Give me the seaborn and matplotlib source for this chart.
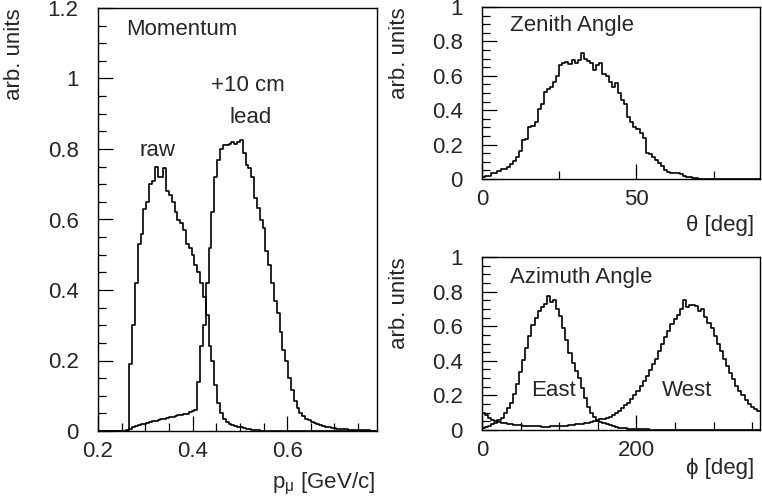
import numpy as np
import pandas as pd
import matplotlib
matplotlib.use("Agg")
import matplotlib.pyplot as plt
import seaborn as sns
from matplotlib.ticker import MultipleLocator, FormatStrFormatter

# ---- data ----
# momentum histograms, bins of 0.006 GeV/c starting at 0.2
p_lo, p_w = 0.2, 0.006
raw = [0.0]*10 + [
    0.0, 0.19, 0.30, 0.42, 0.53, 0.56, 0.63, 0.65, 0.70, 0.71,
    0.75, 0.72, 0.72, 0.745, 0.68, 0.67, 0.65, 0.62, 0.60, 0.59,
    0.57, 0.53, 0.52, 0.50, 0.47, 0.45, 0.42, 0.38, 0.33, 0.24,
    0.20, 0.13, 0.08, 0.05, 0.035, 0.025, 0.02, 0.018, 0.015, 0.012,
    0.01, 0.008, 0.006, 0.005, 0.004, 0.003, 0.002, 0.001] + [0.0]*40
lead = [0.0]*10 + [
    0.002, 0.005, 0.01, 0.014, 0.017, 0.019, 0.021, 0.022, 0.025, 0.027,
    0.028, 0.031, 0.033, 0.034, 0.037, 0.039, 0.040, 0.043, 0.045, 0.046,
    0.048, 0.049, 0.053, 0.056, 0.060, 0.14, 0.24, 0.30, 0.42, 0.52,
    0.62, 0.72, 0.77, 0.80, 0.81, 0.81, 0.815, 0.82, 0.815, 0.82,
    0.826, 0.79, 0.755, 0.745, 0.72, 0.66, 0.633, 0.60, 0.576, 0.51,
    0.47, 0.42, 0.37, 0.334, 0.28, 0.23, 0.20, 0.15, 0.115, 0.085,
    0.066, 0.052, 0.042, 0.034, 0.030, 0.026, 0.023, 0.019, 0.017, 0.013,
    0.012, 0.011, 0.009, 0.008, 0.007, 0.006, 0.005, 0.005, 0.004, 0.003,
    0.003, 0.003, 0.002, 0.002, 0.002, 0.002, 0.001, 0.001]

# zenith angle, 1 deg bins
zenith = [
    0.01, 0.02, 0.02, 0.037, 0.037, 0.046, 0.056, 0.056, 0.072, 0.087,
    0.107, 0.13, 0.16, 0.227, 0.233, 0.30, 0.308, 0.33, 0.407, 0.436,
    0.508, 0.521, 0.537, 0.566, 0.60, 0.663, 0.672, 0.682, 0.668, 0.69,
    0.672, 0.692, 0.73, 0.70, 0.688, 0.672, 0.634, 0.663, 0.676, 0.61,
    0.60, 0.566, 0.533, 0.556, 0.498, 0.46, 0.436, 0.362, 0.33, 0.30,
    0.29, 0.266, 0.236, 0.153, 0.145, 0.13, 0.11, 0.095, 0.075, 0.052,
    0.039, 0.035, 0.033, 0.033, 0.027, 0.017, 0.01, 0.01, 0.004, 0.004,
    0.002, 0.001, 0.001] + [0.0]*17

# azimuth angle, 4 deg bins
east = [
    0.012, 0.018, 0.024, 0.034, 0.043, 0.058, 0.072, 0.10, 0.128, 0.155,
    0.21, 0.265, 0.335, 0.405, 0.475, 0.545, 0.605, 0.65, 0.69, 0.712,
    0.73, 0.775, 0.74, 0.75, 0.70, 0.66, 0.59, 0.52, 0.445, 0.39,
    0.34, 0.30, 0.24, 0.185, 0.135, 0.10, 0.075, 0.052, 0.045, 0.04,
    0.034, 0.028, 0.022, 0.018, 0.014, 0.011, 0.009, 0.007, 0.006, 0.005,
    0.004, 0.004, 0.003, 0.003, 0.002, 0.002, 0.002, 0.002, 0.001, 0.001,
    0.001, 0.001, 0.001] + [0.0]*27
west = [
    0.10, 0.085, 0.072, 0.06, 0.052, 0.046, 0.042, 0.038, 0.035, 0.033,
    0.031, 0.029, 0.027, 0.026, 0.025, 0.024, 0.023, 0.022, 0.021, 0.02,
    0.02, 0.02, 0.021, 0.021, 0.022, 0.023, 0.024, 0.026, 0.028, 0.03,
    0.033, 0.035, 0.036, 0.039, 0.043, 0.047, 0.052, 0.057, 0.062, 0.066,
    0.07, 0.077, 0.088, 0.10, 0.112, 0.128, 0.142, 0.158, 0.178, 0.2,
    0.225, 0.255, 0.285, 0.315, 0.345, 0.38, 0.41, 0.455, 0.50, 0.54,
    0.575, 0.61, 0.64, 0.665, 0.70, 0.75, 0.71, 0.72, 0.72, 0.715,
    0.69, 0.70, 0.655, 0.62, 0.59, 0.545, 0.50, 0.455, 0.41, 0.37,
    0.33, 0.295, 0.255, 0.225, 0.20, 0.172, 0.152, 0.135, 0.12, 0.108]

sns.set_style("white")
plt.rcParams["font.family"] = ["Liberation Sans", "DejaVu Sans"]
plt.rcParams["mathtext.fontset"] = "custom"
plt.rcParams["mathtext.rm"] = "Liberation Sans"
FS = 16


def step_hist(ax, lo, width, vals):
    vals = np.asarray(vals)
    edges = lo + width*np.arange(len(vals) + 1)
    df = pd.DataFrame({"x": (edges[:-1] + edges[1:])/2, "w": vals})
    sns.histplot(data=df, x="x", weights="w", bins=list(edges), element="step",
                 fill=False, color="black", linewidth=1.2, ax=ax)


def style(ax, xmaj, xmin, ymax):
    ax.set_ylim(0, ymax)
    ax.xaxis.set_major_locator(MultipleLocator(xmaj))
    ax.xaxis.set_minor_locator(MultipleLocator(xmin))
    ax.yaxis.set_major_locator(MultipleLocator(0.2))
    ax.yaxis.set_minor_locator(MultipleLocator(0.05))
    ax.yaxis.set_major_formatter(FormatStrFormatter("%g"))
    ax.xaxis.set_major_formatter(FormatStrFormatter("%g"))
    ax.tick_params(which="both", direction="in", top=False, right=False,
                   bottom=True, left=True,
                   width=0.9, color="black", labelsize=FS)
    ax.tick_params(which="major", length=11)
    ax.tick_params(which="minor", length=5.5)
    ax.tick_params(axis="y", pad=14)
    ax.tick_params(axis="x", pad=7)
    for s in ax.spines.values():
        s.set_linewidth(1.0)
        s.set_color("black")
    ax.set_ylabel("arb. units", fontsize=FS, loc="top")
    ax.yaxis.set_label_coords(-0.26, 1.0)


fig = plt.figure(figsize=(7.62, 4.98), dpi=100)
ax1 = fig.add_axes([98/762, 1-431/498, 279/762, 423/498])
ax2 = fig.add_axes([482/762, 1-179/498, 278/762, 172/498])
ax3 = fig.add_axes([482/762, 1-430/498, 278/762, 173/498])

# momentum
step_hist(ax1, p_lo, p_w, raw)
step_hist(ax1, p_lo, p_w, lead)
ax1.set_xlim(0.2, 0.79)
style(ax1, 0.2, 0.05, 1.2)
ax1.set_xlabel(r"p$_{\mathrm{\mu}}$ [GeV/c]", fontsize=FS, loc="right")
ax1.xaxis.set_label_coords(0.993, -0.125)
ax1.xaxis.label.set_va("center")
ax1.text(0.259, 1.138, "Momentum", fontsize=FS, ha="left", va="center")
ax1.text(0.516, 0.98, "+10 cm", fontsize=FS, ha="center", va="center")
ax1.text(0.523, 0.888, "lead", fontsize=FS, ha="center", va="center")
ax1.text(0.326, 0.797, "raw", fontsize=FS, ha="center", va="center")

# zenith
step_hist(ax2, 0, 1, zenith)
ax2.set_xlim(0, 90)
style(ax2, 50, 25, 1.0)
ax2.set_xlabel("θ [deg]", fontsize=FS, loc="right")
ax2.xaxis.set_label_coords(0.98, -0.27)
ax2.xaxis.label.set_va("center")
ax2.text(9.1, 0.895, "Zenith Angle", fontsize=FS, ha="left", va="center")

# azimuth
step_hist(ax3, 0, 4, east)
step_hist(ax3, 0, 4, west)
ax3.set_xlim(0, 360)
style(ax3, 200, 50, 1.0)
ax3.set_xlabel("ϕ [deg]", fontsize=FS, loc="right")
ax3.xaxis.set_label_coords(0.98, -0.225)
ax3.xaxis.label.set_va("center")
ax3.text(36, 0.879, "Azimuth Angle", fontsize=FS, ha="left", va="center")
ax3.text(92, 0.231, "East", fontsize=FS, ha="center", va="center")
ax3.text(265, 0.231, "West", fontsize=FS, ha="center", va="center")

fig.savefig("out.png", dpi=100)
